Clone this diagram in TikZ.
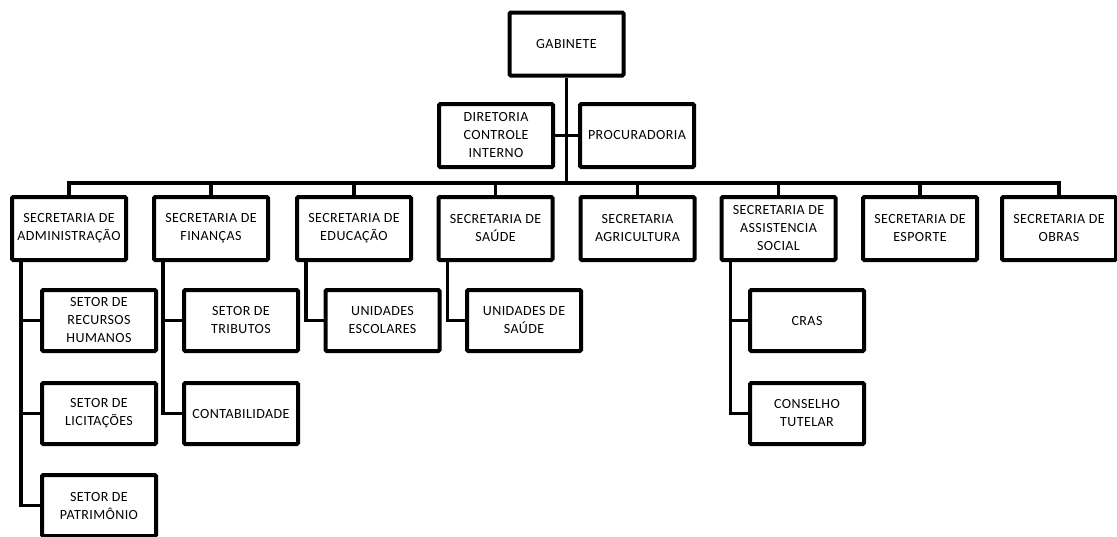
\documentclass[tikz,border=0pt]{standalone}
\usepackage{fontspec}
\setmainfont{Carlito}[LetterSpace=3]
\begin{document}
\begin{tikzpicture}[x=1pt,y=-1pt,
  box/.style={draw=black,line width=4pt,rounded corners=1.2pt,minimum width=114pt,minimum height=63pt,
    inner sep=0pt,align=center,font=\fontsize{14}{18}\selectfont},
  sub/.style={box,minimum height=61pt},
  conn/.style={draw=black,line width=3.3pt}]
\useasboundingbox (0,0) rectangle (1117,536);
\node[box] (gab) at (566.5,44) {GABINETE};
\node[box] (dir) at (496,135.5) {DIRETORIA\\CONTROLE\\INTERNO};
\node[box] (proc) at (637,135.5) {PROCURADORIA};
\node[box] (adm) at (69,228.5) {SECRETARIA DE\\ADMINISTRAÇÃO};
\node[box] (fin) at (211,228.5) {SECRETARIA DE\\FINANÇAS};
\node[box] (edu) at (354,228.5) {SECRETARIA DE\\EDUCAÇÃO};
\node[box] (sau) at (495.5,228.5) {SECRETARIA DE\\SAÚDE};
\node[box] (agr) at (637.5,228.5) {SECRETARIA\\AGRICULTURA};
\node[box] (ass) at (778.5,228.5) {SECRETARIA DE\\ASSISTENCIA\\SOCIAL};
\node[box] (esp) at (920,228.5) {SECRETARIA DE\\ESPORTE};
\node[box] (obr) at (1059,228.5) {SECRETARIA DE\\OBRAS};
\node[sub] (rh) at (99,320.5) {SETOR DE\\RECURSOS\\HUMANOS};
\node[sub] (lic) at (99,413.5) {SETOR DE\\LICITAÇÕES};
\node[sub] (pat) at (99,505.5) {SETOR DE\\PATRIMÔNIO};
\node[sub] (trib) at (241,320.5) {SETOR DE\\TRIBUTOS};
\node[sub] (cont) at (241,413.5) {CONTABILIDADE};
\node[sub] (esc) at (382.5,320.5) {UNIDADES\\ESCOLARES};
\node[sub] (us) at (524,320.5) {UNIDADES DE\\SAÚDE};
\node[sub] (cras) at (807,320.5) {CRAS};
\node[sub] (cons) at (807,413.5) {CONSELHO\\TUTELAR};
\coordinate (bar) at (566.5,183);
% top connectors
\draw[conn] (gab.south) -- (bar);
\draw[conn] (dir.east) -- (proc.west);
\draw[conn] (adm.north) |- (bar) -| (obr.north);
\foreach \n in {fin,edu,sau,agr,ass,esp} \draw[conn] (\n.north) -- (\n.north |- bar);
% children
\draw[conn] ([xshift=11pt]adm.south west) |- (rh.west);
\draw[conn] ([xshift=11pt]adm.south west) |- (lic.west);
\draw[conn] ([xshift=11pt]adm.south west) |- (pat.west);
\draw[conn] ([xshift=11pt]fin.south west) |- (trib.west);
\draw[conn] ([xshift=11pt]fin.south west) |- (cont.west);
\draw[conn] ([xshift=11pt]edu.south west) |- (esc.west);
\draw[conn] ([xshift=11pt]sau.south west) |- (us.west);
\draw[conn] ([xshift=11pt]ass.south west) |- (cras.west);
\draw[conn] ([xshift=11pt]ass.south west) |- (cons.west);
\end{tikzpicture}
\end{document}
